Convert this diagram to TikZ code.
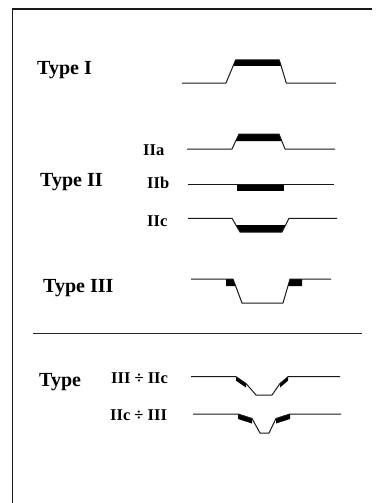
\documentclass[tikz,border=0pt]{standalone}
\usepackage{fontspec}
\setmainfont{Liberation Serif}
\begin{document}
\begin{tikzpicture}[x=1pt,y=-1pt]
\tikzset{
  lab/.style={anchor=base west, inner sep=0pt, font=\bfseries\fontsize{20}{23}\selectfont},
  sublab/.style={anchor=base west, inner sep=0pt, font=\bfseries\fontsize{16.5}{19}\selectfont},
  wave/.style={line width=1pt, black!90, line join=round},
  band/.style={fill=black, draw=none},
  frame/.style={line width=1.5pt, black!90}
}
\useasboundingbox (0,0) rectangle (377,503);
\fill[white] (0,0) rectangle (377,503);
% frame
\draw[frame] (12.5,503) -- (12.5,9) -- (372,9);
\draw[line width=1pt, black!85] (33,333) -- (362,333);

% labels
\node[lab] (t1) at (37,74.5) {Type I};
\node[sublab] (iia) at (143,155) {IIa};
\node[lab] (t2) at (40,186) {Type II};
\node[sublab] (iib) at (147,188) {IIb};
\node[sublab] (iic) at (147,226) {IIc};
\node[lab] (t3) at (43,292) {Type III};
\node[lab] (t4) at (39,386) {Type};
\node[sublab] (c1) at (111,383) {III ÷ IIc};
\node[sublab] (c2) at (110,420) {IIc ÷ III};

% Type I
\fill[band] (235.6,60) -- (279.3,60) -- (281.1,66) -- (233.1,66) -- cycle;
\draw[wave] (182,83) -- (226,83) -- (235.6,60) -- (279.3,60) -- (286.3,83) -- (336,83);

% IIa
\fill[band] (239,134) -- (279,134) -- (281.8,141) -- (235.7,141) -- cycle;
\draw[wave] (187,149) -- (232,149) -- (239,134) -- (279,134) -- (285,149) -- (335,149);

% IIb
\fill[band] (237,184.3) rectangle (284,191);
\draw[wave] (188,184.3) -- (334,184.3);

% IIc
\fill[band] (235.9,225) -- (285.6,225) -- (282,232) -- (240,232) -- cycle;
\draw[wave] (188,218.3) -- (232,218.3) -- (240,232) -- (282,232) -- (289,218.3) -- (337,218.3);

% Type III
\fill[band] (226,279) -- (233,279) -- (235.6,286) -- (226,286) -- cycle;
\fill[band] (290,279) -- (302,279) -- (302,286) -- (288,286) -- cycle;
\draw[wave] (191,279) -- (233,279) -- (242,303) -- (283,303) -- (290,279) -- (331,279);

% III + IIc
\fill[band] (236,376.7) -- (246,383.5) -- (246,387.5) -- (236,380.7) -- cycle;
\fill[band] (280,383.5) -- (288,376.7) -- (288,380.7) -- (280,387.5) -- cycle;
\draw[wave] (191,376.7) -- (236,376.7) -- (246,383.5) -- (256,395) -- (272,395) -- (280,383.5) -- (288,376.7) -- (340,376.7);

% IIc + III
\fill[band] (238,414) -- (252,418.5) -- (252,423.5) -- (238,419) -- cycle;
\fill[band] (276,418.5) -- (290,414) -- (290,419) -- (276,423.5) -- cycle;
\draw[wave] (193,414) -- (238,414) -- (252,418.5) -- (260,433) -- (269,433) -- (276,418.5) -- (290,414) -- (341,414);
\end{tikzpicture}
\end{document}
